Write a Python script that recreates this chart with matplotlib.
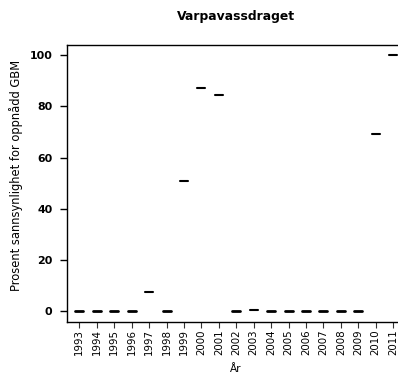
import matplotlib
matplotlib.use("Agg")
import matplotlib.pyplot as plt

# Yearly probability (percent) of reaching GBM, Varpa watercourse
years = [1993, 1994, 1995, 1996, 1997, 1998, 1999, 2000, 2001, 2002,
         2003, 2004, 2005, 2006, 2007, 2008, 2009, 2010, 2011]
probability = [0, 0, 0, 0, 7.6, 0, 51, 87.3, 84.5, 0,
               0.5, 0, 0, 0, 0, 0, 0, 69, 100]
y_ticks = [0, 20, 40, 60, 80, 100]

title = "Varpavassdraget"
x_label = "År"
y_label = "Prosent sannsynlighet for oppnådd GBM"

W, H, DPI = 398, 378, 100
fig = plt.figure(figsize=(W / DPI, H / DPI), dpi=DPI)

# axes box in pixel coordinates (the right side runs past the canvas edge)
left_px, right_px, top_px, bottom_px = 67, 405.5, 44.7, 321.7
ax = fig.add_axes([left_px / W, 1 - bottom_px / H,
                   (right_px - left_px) / W, (bottom_px - top_px) / H])

pos = list(range(1, len(years) + 1))
half = 0.23
for p, v in zip(pos, probability):
    lw = 2.0 if v == 0 else 1.5
    ax.hlines(v, p - half, p + half, colors="black", linewidth=lw,
              capstyle="round")

ax.set_xlim(0.29, len(years) + 0.71)
ax.set_ylim(-4, 104)

ax.set_xticks(pos)
ax.set_xticklabels([str(y) for y in years], rotation=90,
                   fontsize=7.4, family="DejaVu Sans")
ax.set_yticks(y_ticks)
ax.set_yticklabels([str(t) for t in y_ticks], fontsize=7.9,
                   fontweight="bold", family="DejaVu Sans")

ax.tick_params(axis="x", length=4.3, width=0.8, pad=1.0, color="#333333")
ax.tick_params(axis="y", length=5.0, width=1.0, pad=5.5)

for side in ("left", "top", "bottom", "right"):
    ax.spines[side].set_linewidth(1.0)
    ax.spines[side].set_color("black")

fig.text((left_px + right_px) / 2 / W, 1 - 16.5 / H, title,
         ha="center", va="center", fontsize=8.9, fontweight="bold",
         family="DejaVu Sans")
fig.text(236 / W, 1 - 369 / H, x_label, ha="center", va="center",
         fontsize=7.6, family="DejaVu Sans")
fig.text(16.5 / W, 1 - 175 / H, y_label, ha="center", va="center",
         rotation=90, fontsize=8.3, family="DejaVu Sans")

fig.savefig("out.png", dpi=DPI)
